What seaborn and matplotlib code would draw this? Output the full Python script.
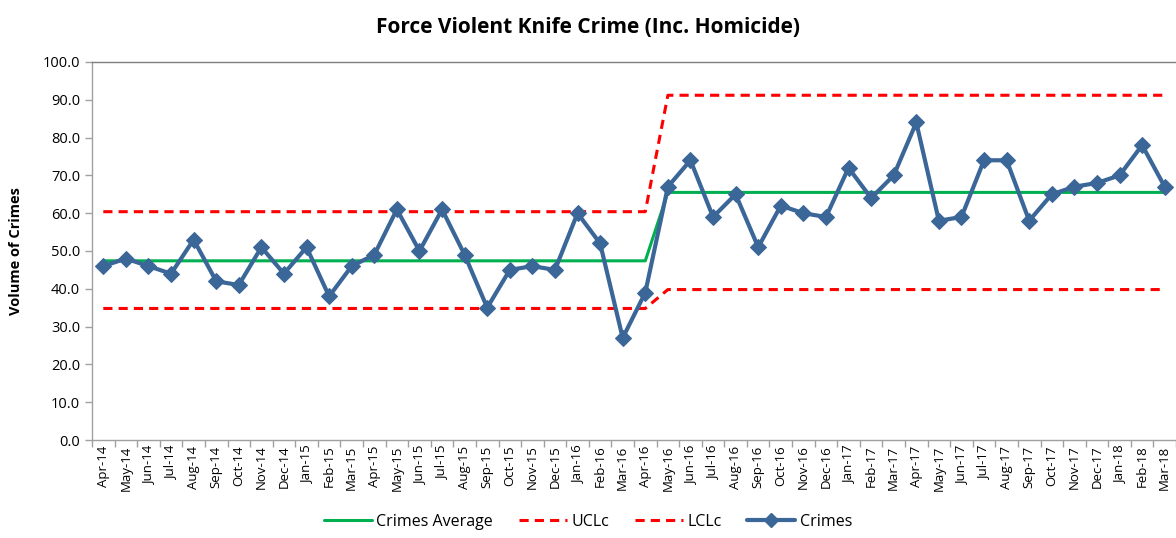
import matplotlib
matplotlib.use("Agg")
import matplotlib.pyplot as plt
import seaborn as sns
import pandas as pd
import numpy as np
from matplotlib.lines import Line2D

months = ["Apr-14","May-14","Jun-14","Jul-14","Aug-14","Sep-14","Oct-14","Nov-14","Dec-14","Jan-15",
          "Feb-15","Mar-15","Apr-15","May-15","Jun-15","Jul-15","Aug-15","Sep-15","Oct-15","Nov-15",
          "Dec-15","Jan-16","Feb-16","Mar-16","Apr-16","May-16","Jun-16","Jul-16","Aug-16","Sep-16",
          "Oct-16","Nov-16","Dec-16","Jan-17","Feb-17","Mar-17","Apr-17","May-17","Jun-17","Jul-17",
          "Aug-17","Sep-17","Oct-17","Nov-17","Dec-17","Jan-18","Feb-18","Mar-18"]
crimes = [46,48,46,44,53,42,41,51,44,51,
          38,46,49,61,50,61,49,35,45,46,
          45,60,52,27,39,67,74,59,65,51,
          62,60,59,72,64,70,84,58,59,74,
          74,58,65,67,68,70,78,67]
avg_values = [47.4]*25 + [65.5]*23
ucl_values = [60.4]*25 + [91.2]*23
lcl_values = [34.8]*25 + [39.8]*23

df = pd.DataFrame({"x": np.arange(len(months)), "Crimes": crimes,
                   "Crimes Average": avg_values, "UCLc": ucl_values, "LCLc": lcl_values})

sns.set_theme(style="white")
plt.rcParams['font.family'] = ['Open Sans', 'DejaVu Sans']
plt.rcParams['text.color'] = 'black'
plt.rcParams['axes.labelcolor'] = 'black'
plt.rcParams['xtick.color'] = 'black'
plt.rcParams['ytick.color'] = 'black'

fig = plt.figure(figsize=(11.76, 5.38), dpi=100)
ax = fig.add_axes([92/1176, 1-440/538, (1176-92)/1176, (440-62)/538])

green = "#00B050"
red = "#FF0000"
blue = "#3B6698"

sns.lineplot(data=df, x="x", y="Crimes Average", ax=ax, color=green, linewidth=2.2)
sns.lineplot(data=df, x="x", y="UCLc", ax=ax, color=red, linewidth=2.2, linestyle=(0, (3, 2)))
sns.lineplot(data=df, x="x", y="LCLc", ax=ax, color=red, linewidth=2.2, linestyle=(0, (3, 2)))
sns.lineplot(data=df, x="x", y="Crimes", ax=ax, color=blue, linewidth=3,
             marker="D", markersize=8, markeredgecolor=blue)

ax.set_xlim(-0.5, len(months) - 0.5)
ax.set_ylim(0, 100)
ax.set_yticks(np.arange(0, 101, 10))
ax.set_yticklabels([f"{v:.1f}" for v in np.arange(0, 101, 10)], fontsize=10.5)
ax.set_xticks(np.arange(len(months)))
ax.set_xticklabels(months, rotation=90, fontsize=9.5)
ax.set_xticks(np.arange(len(months) + 1) - 0.5, minor=True)
ax.tick_params(axis="x", which="major", length=0, pad=4)
ax.tick_params(axis="x", which="minor", length=5, color="#A0A0A0", width=1, direction="out", bottom=True)
ax.tick_params(axis="y", length=5, color="#A0A0A0", width=1, direction="out", left=True)
ax.set_xlabel("")
ax.set_ylabel("Volume of Crimes", fontsize=10.5, fontweight="bold", labelpad=14)

for side in ["left", "bottom", "top"]:
    ax.spines[side].set_visible(True)
    ax.spines[side].set_color("#A0A0A0")
    ax.spines[side].set_linewidth(1)
ax.spines["top"].set_color("#7F7F7F")
ax.spines["right"].set_visible(False)

fig.suptitle("Force Violent Knife Crime (Inc. Homicide)", fontsize=15, fontweight="bold", y=0.968)

handles = [Line2D([], [], color=green, linewidth=2.2),
           Line2D([], [], color=red, linewidth=2.2, linestyle=(0, (3, 2))),
           Line2D([], [], color=red, linewidth=2.2, linestyle=(0, (3, 2))),
           Line2D([], [], color=blue, linewidth=3, marker="D", markersize=7)]
fig.legend(handles, ["Crimes Average", "UCLc", "LCLc", "Crimes"], loc="lower center",
           bbox_to_anchor=(0.5, -0.012), ncol=4, frameon=False, fontsize=11.5,
           handlelength=3.0, handletextpad=0.3, columnspacing=1.6)

fig.savefig("out.png", dpi=100)
